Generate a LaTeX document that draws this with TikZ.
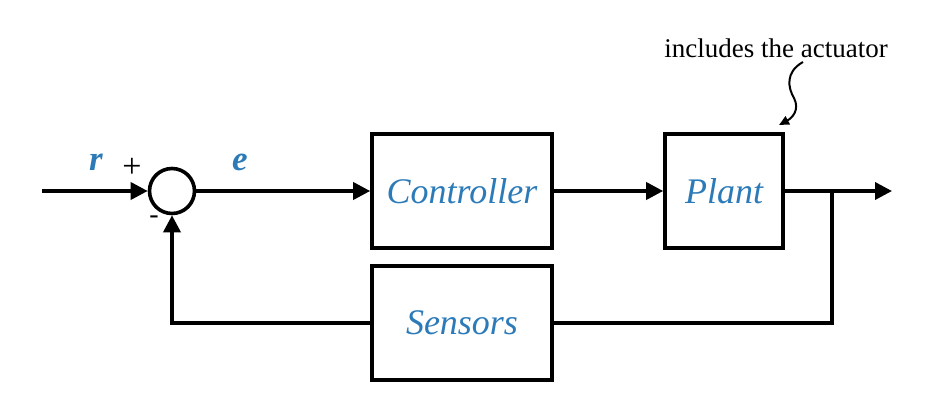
\documentclass[tikz,border=0pt]{standalone}
\usepackage{fontspec}
\setmainfont{Liberation Serif}
\usetikzlibrary{arrows.meta}
\definecolor{lblue}{HTML}{2C7BB8}
\begin{document}
\begin{tikzpicture}[x=1pt,y=-1pt,
  blk/.style={draw,line width=3.6pt,minimum width=180pt,minimum height=114pt,inner sep=0pt,font=\fontsize{36}{40}\selectfont\itshape,text=lblue},
  wire/.style={line width=3.6pt},
  arr/.style={wire,-{Triangle[length=17pt,width=17pt]}},
  lbl/.style={font=\fontsize{35}{38}\selectfont\bfseries\itshape,text=lblue}]
\useasboundingbox (0,0) rectangle (945,407);
\node[draw,circle,line width=3.6pt,minimum size=45pt,inner sep=0pt] (sum) at (172,191) {};
\node[blk] (ctrl) at (462,191) {Controller};
\node[blk,minimum width=118pt] (plant) at (724,191) {Plant};
\node[blk] (sens) at (462,323) {Sensors};
\coordinate (in) at (42,191);
\coordinate (out) at (892,191);
\coordinate (br) at (832,191);
\coordinate (brd) at (832,323);
\coordinate (fbl) at (172,323);
\draw[arr] (in) -- (sum);
\draw[arr] (sum) -- (ctrl);
\draw[arr] (ctrl) -- (plant);
\draw[arr] (plant) -- (out);
\draw[wire] (br) -- (brd) -- (sens);
\draw[arr] (sens) -- (fbl) -- (sum);
\node[lbl] (r) at (96,162) {r};
\node[lbl] (e) at (240,162) {e};
\node[font=\fontsize{34}{36}\selectfont] (plus) at (132,168) {+};
\node[font=\fontsize{28}{30}\selectfont] (minus) at (154,220) {-};
\node[font=\fontsize{27}{30}\selectfont] (note) at (776,48) {includes the actuator};
\draw[line width=2pt,-{Triangle[length=10pt,width=9pt]}] (803,62) .. controls (785,72) and (788,88) .. (794,98) .. controls (800,110) and (792,118) .. (779,125);
\end{tikzpicture}
\end{document}
